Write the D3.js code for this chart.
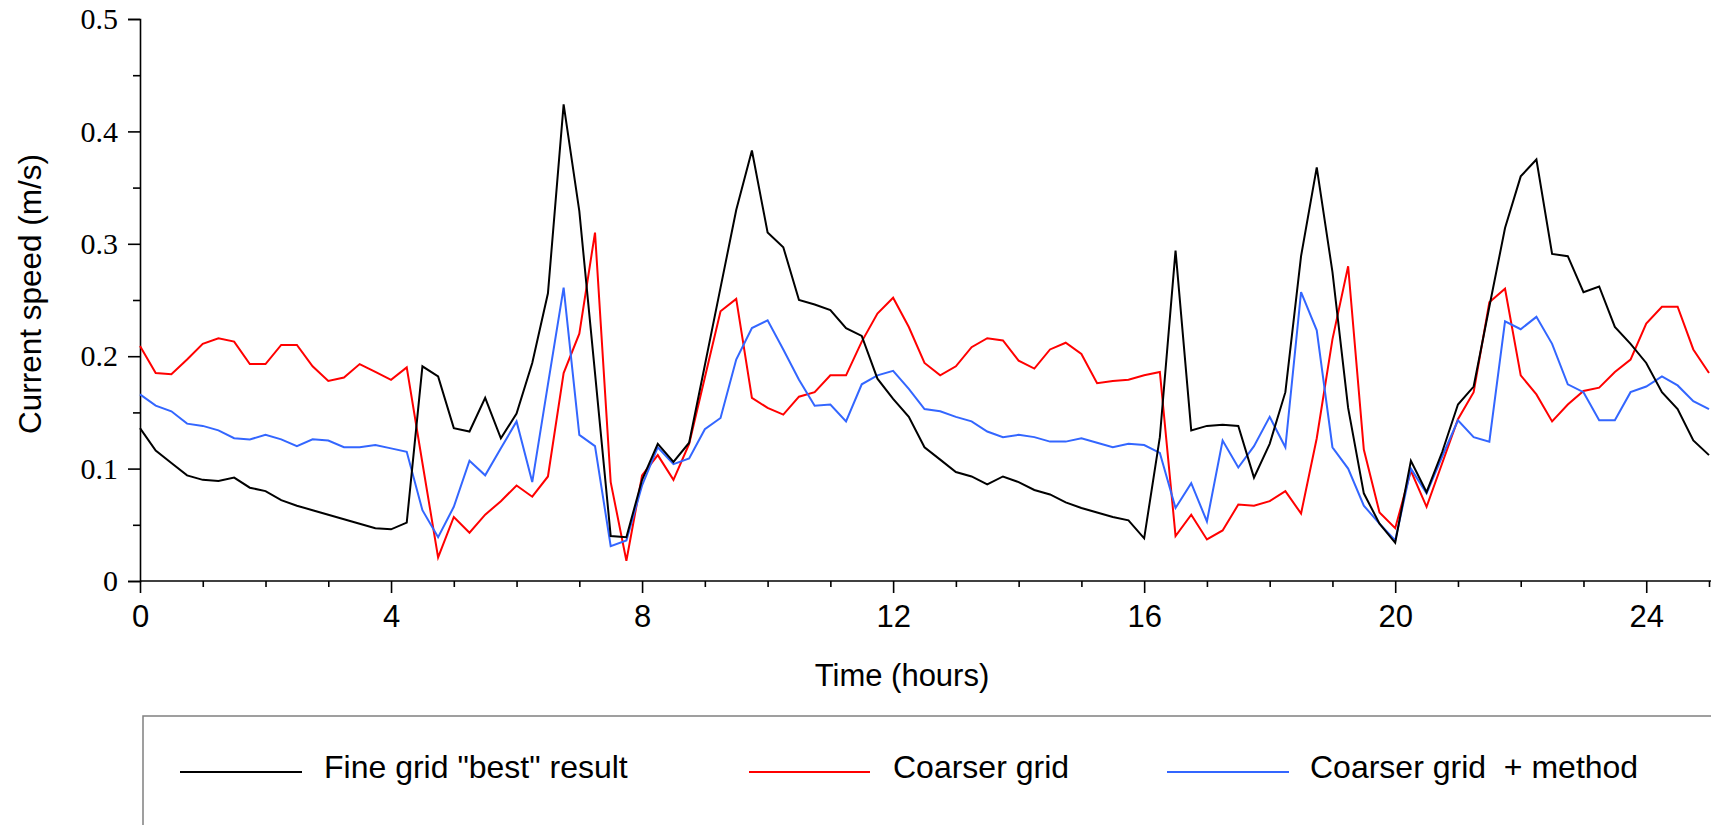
<!DOCTYPE html>
<html>
<head>
<meta charset="utf-8">
<script src="https://cdn.jsdelivr.net/npm/d3@7"></script>
<style>
  html, body { margin: 0; padding: 0; background: #fff; }
  svg { display: block; }
  .sans { font-family: "Liberation Sans", Arial, sans-serif; }
  .serif { font-family: "Liberation Serif", "Times New Roman", serif; }
</style>
</head>
<body>
<svg id="chart" width="1711" height="825"></svg>
<script>
// Time step of the model output: every 15 minutes from 0 to 25 h
const timeStepHours = 0.25;

const fineGrid = [
  0.136, 0.116, 0.105, 0.094, 0.090, 0.089, 0.092, 0.083, 0.080, 0.072,
  0.067, 0.063, 0.059, 0.055, 0.051, 0.047, 0.046, 0.052, 0.191, 0.182,
  0.136, 0.133, 0.163, 0.127, 0.149, 0.194, 0.256, 0.424, 0.329, 0.185,
  0.040, 0.039, 0.090, 0.122, 0.106, 0.123, 0.192, 0.261, 0.330, 0.383,
  0.310, 0.297, 0.250, 0.246, 0.241, 0.225, 0.218, 0.180, 0.162, 0.146,
  0.119, 0.108, 0.097, 0.093, 0.086, 0.093, 0.088, 0.081, 0.077, 0.070,
  0.065, 0.061, 0.057, 0.054, 0.038, 0.128, 0.294, 0.134, 0.138, 0.139,
  0.138, 0.092, 0.122, 0.168, 0.289, 0.368, 0.275, 0.154, 0.078, 0.051,
  0.034, 0.107, 0.079, 0.115, 0.157, 0.173, 0.244, 0.314, 0.360, 0.375,
  0.291, 0.289, 0.257, 0.262, 0.226, 0.211, 0.194, 0.168, 0.153, 0.125,
  0.112
];

const coarserGrid = [
  0.209, 0.185, 0.184, 0.197, 0.211, 0.216, 0.213, 0.193, 0.193, 0.210,
  0.210, 0.191, 0.178, 0.181, 0.193, 0.186, 0.179, 0.190, 0.105, 0.021,
  0.057, 0.043, 0.059, 0.071, 0.085, 0.075, 0.093, 0.185, 0.220, 0.310,
  0.088, 0.018, 0.094, 0.112, 0.090, 0.122, 0.181, 0.240, 0.251, 0.163,
  0.154, 0.148, 0.164, 0.168, 0.183, 0.183, 0.213, 0.238, 0.252, 0.226,
  0.194, 0.183, 0.191, 0.208, 0.216, 0.214, 0.196, 0.189, 0.206, 0.212,
  0.202, 0.176, 0.178, 0.179, 0.183, 0.186, 0.040, 0.059, 0.037, 0.045,
  0.068, 0.067, 0.071, 0.080, 0.060, 0.127, 0.215, 0.280, 0.117, 0.061,
  0.047, 0.098, 0.066, 0.105, 0.144, 0.168, 0.248, 0.260, 0.183, 0.166,
  0.142, 0.157, 0.169, 0.172, 0.186, 0.197, 0.229, 0.244, 0.244, 0.206,
  0.185
];

const coarserGridMethod = [
  0.166, 0.156, 0.151, 0.140, 0.138, 0.134, 0.127, 0.126, 0.130, 0.126,
  0.120, 0.126, 0.125, 0.119, 0.119, 0.121, 0.118, 0.115, 0.063, 0.039,
  0.066, 0.107, 0.094, 0.118, 0.142, 0.088, 0.175, 0.261, 0.130, 0.120,
  0.031, 0.036, 0.085, 0.119, 0.104, 0.109, 0.135, 0.145, 0.197, 0.225,
  0.232, 0.206, 0.179, 0.156, 0.157, 0.142, 0.175, 0.183, 0.187, 0.171,
  0.153, 0.151, 0.146, 0.142, 0.133, 0.128, 0.130, 0.128, 0.124, 0.124,
  0.127, 0.123, 0.119, 0.122, 0.121, 0.114, 0.065, 0.087, 0.053, 0.125,
  0.101, 0.120, 0.146, 0.119, 0.257, 0.223, 0.119, 0.100, 0.067, 0.051,
  0.036, 0.100, 0.078, 0.111, 0.143, 0.128, 0.124, 0.231, 0.224, 0.235,
  0.211, 0.175, 0.168, 0.143, 0.143, 0.168, 0.173, 0.182, 0.174, 0.160,
  0.153
];

const xMajorTicks = [0, 4, 8, 12, 16, 20, 24];
const yMajorTicks = [0, 0.1, 0.2, 0.3, 0.4, 0.5];
const seriesNames = ['Fine grid "best" result', "Coarser grid", "Coarser grid  + method"];
const seriesColors = ["#000000", "#ff0000", "#3366ff"];

const svg = d3.select("#chart");
const plot = { left: 140, right: 1709, top: 19, bottom: 581 };

const x = d3.scaleLinear().domain([0, 25]).range([plot.left, plot.right]);
const y = d3.scaleLinear().domain([0, 0.5]).range([plot.bottom, plot.top]);

// Minor ticks: every hour on x, every 0.05 m/s on y
const xMinor = d3.range(0, 26, 1).filter(h => h % 4 !== 0);
const yMinor = [0.05, 0.15, 0.25, 0.35, 0.45];

// X axis
const gx = svg.append("g").attr("transform", `translate(0,${plot.bottom})`);
gx.call(d3.axisBottom(x).tickValues(xMajorTicks).tickSize(12).tickFormat(d3.format("d")));
gx.append("g").call(d3.axisBottom(x).tickValues(xMinor).tickSize(6).tickFormat(""))
  .select(".domain").remove();
gx.select(".domain").attr("d", `M${plot.left},0H1711`);
gx.selectAll(".tick text")
  .attr("class", "sans")
  .attr("y", 46).attr("dy", 0)
  .attr("font-size", 31).attr("fill", "#000");

// Y axis
const gy = svg.append("g").attr("transform", `translate(${plot.left},0)`);
gy.call(d3.axisLeft(y).tickValues(yMajorTicks).tickSize(12).tickPadding(10)
  .tickFormat(d => d === 0 ? "0" : d3.format(".1f")(d)));
gy.append("g").call(d3.axisLeft(y).tickValues(yMinor).tickSize(7).tickFormat(""))
  .select(".domain").remove();
gy.selectAll(".tick text")
  .attr("class", "serif")
  .attr("font-size", 30).attr("fill", "#000");

svg.selectAll(".domain, .tick line")
  .attr("stroke", "#000").attr("stroke-width", 1.6);

// Axis titles
svg.append("text").attr("class", "sans")
  .attr("x", 902).attr("y", 686)
  .attr("text-anchor", "middle").attr("font-size", 31)
  .text("Time (hours)");

svg.append("text").attr("class", "sans")
  .attr("transform", "translate(41,294) rotate(-90)")
  .attr("text-anchor", "middle").attr("font-size", 31.5)
  .text("Current speed (m/s)");

// Data lines
const line = d3.line()
  .x((d, i) => x(i * timeStepHours))
  .y(d => y(d));

const drawOrder = [
  { data: coarserGrid, color: seriesColors[1] },
  { data: coarserGridMethod, color: seriesColors[2] },
  { data: fineGrid, color: seriesColors[0] }
];
svg.append("g").selectAll("path")
  .data(drawOrder)
  .join("path")
  .attr("d", s => line(s.data))
  .attr("fill", "none")
  .attr("stroke", s => s.color)
  .attr("stroke-width", 2);

// Legend
const legend = svg.append("g");
legend.append("rect")
  .attr("x", 143).attr("y", 716)
  .attr("width", 1700).attr("height", 300)
  .attr("fill", "none").attr("stroke", "#808080").attr("stroke-width", 1.5);

const legendItems = [
  { x1: 180, x2: 302, tx: 324 },
  { x1: 749, x2: 870, tx: 893 },
  { x1: 1167, x2: 1289, tx: 1310 }
];
legendItems.forEach((it, k) => {
  legend.append("line")
    .attr("x1", it.x1).attr("x2", it.x2)
    .attr("y1", 772).attr("y2", 772)
    .attr("stroke", seriesColors[k]).attr("stroke-width", 2);
  legend.append("text").attr("class", "sans")
    .attr("x", it.tx).attr("y", 778)
    .attr("font-size", 32)
    .style("white-space", "pre")
    .text(seriesNames[k]);
});
</script>
</body>
</html>
